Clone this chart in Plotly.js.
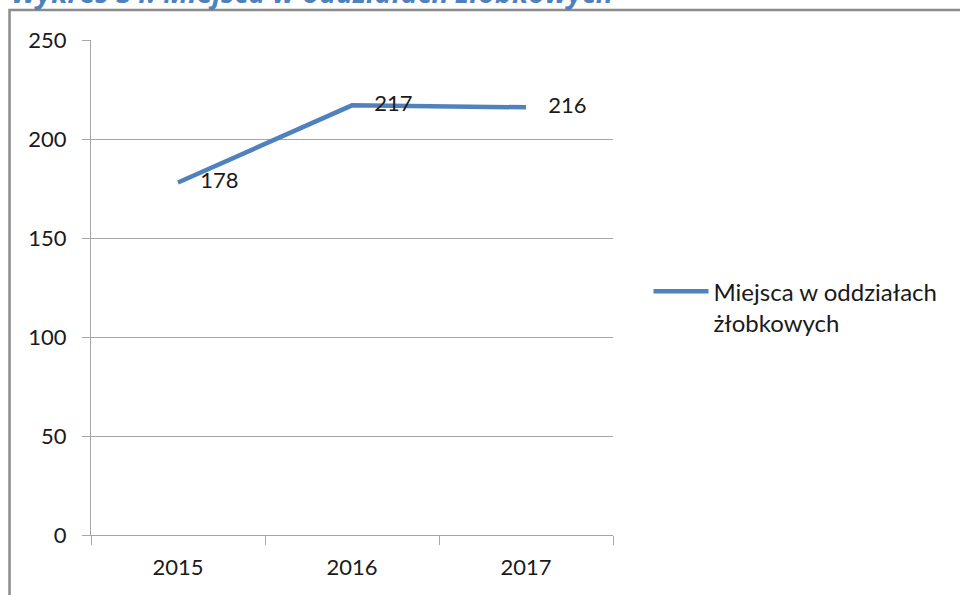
<!DOCTYPE html>
<html>
<head>
<meta charset="utf-8">
<script src="https://cdn.plot.ly/plotly-3.0.1.min.js"></script>
<style>html,body{margin:0;padding:0;background:#fff;}#chart{width:960px;height:595px;}</style>
</head>
<body>
<div id="chart"></div>
<script>
const years = ['2015', '2016', '2017'];
const places = [178, 217, 216];
const seriesName = 'Miejsca w oddziałach<br>żłobkowych';
const yTicks = [0, 50, 100, 150, 200, 250];
const chartTitle = 'Wykres 54. Miejsca w oddziałach żłobkowych';

const FONT = 'Lato, "Open Sans", sans-serif';
const trace = {
  x: years,
  y: places,
  type: 'scatter',
  mode: 'lines+markers+text',
  name: seriesName,
  line: {color: '#4F81BD', width: 4.5},
  marker: {size: 34, color: 'rgba(0,0,0,0)', line: {width: 0}},
  text: places.map(String),
  textposition: 'middle right',
  textfont: {family: FONT, size: 22, color: '#1a1a1a'},
  cliponaxis: false,
  hoverinfo: 'x+y'
};

const layout = {
  width: 960, height: 595,
  margin: {l: 91, r: 347, t: 40, b: 60, pad: 0},
  paper_bgcolor: '#ffffff', plot_bgcolor: '#ffffff',
  font: {family: FONT, size: 22, color: '#1a1a1a'},
  showlegend: true,
  legend: {
    x: 1.068, xanchor: 'left', y: 0.537, yanchor: 'top',
    valign: 'top', itemwidth: 55,
    font: {family: FONT, size: 24, color: '#1a1a1a'},
    bgcolor: 'rgba(0,0,0,0)', borderwidth: 0
  },
  xaxis: {
    type: 'category', range: [-0.5, 2.5],
    showline: true, linecolor: '#A6A6A6', linewidth: 1,
    ticks: 'outside', ticklen: 9, tickcolor: '#A6A6A6', tickwidth: 1,
    tickson: 'boundaries', showgrid: false, zeroline: false,
    tickfont: {family: FONT, size: 22, color: '#1a1a1a'}, ticklabelstandoff: 13
  },
  yaxis: {
    range: [0, 250], tickvals: yTicks,
    showline: true, linecolor: '#A6A6A6', linewidth: 1,
    ticks: 'outside', ticklen: 8, tickcolor: '#A6A6A6', tickwidth: 1,
    showgrid: true, gridcolor: '#A6A6A6', gridwidth: 1, zeroline: false,
    tickfont: {family: FONT, size: 22, color: '#1a1a1a'}, ticklabelstandoff: 11
  },
  shapes: [{
    type: 'rect', xref: 'paper', yref: 'paper',
    x0: -0.1561, x1: 1.8, y0: -0.3, y1: 1.0606,
    line: {color: '#8C8C8C', width: 2.5}, fillcolor: 'rgba(0,0,0,0)', layer: 'below'
  }],
  annotations: [{
    xref: 'paper', yref: 'paper', x: -0.158, xanchor: 'left',
    y: 1.054, yanchor: 'bottom', showarrow: false,
    text: '<b><i>' + chartTitle + '</i></b>',
    font: {family: '"Open Sans", sans-serif', size: 28.5, color: '#4F81BD'}
  }]
};

Plotly.newPlot('chart', [trace], layout, {displayModeBar: false, staticPlot: true});
</script>
</body>
</html>
